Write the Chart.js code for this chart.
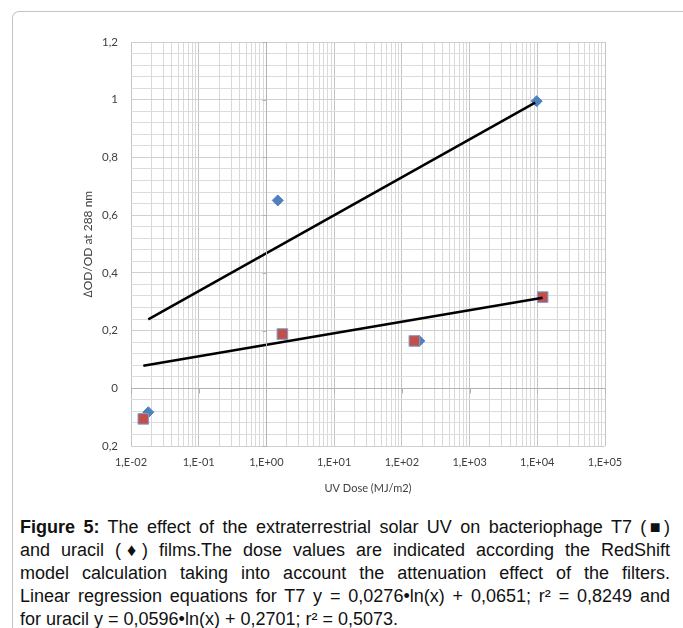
<!DOCTYPE html>
<html>
<head>
<meta charset="utf-8">
<script src="https://cdn.jsdelivr.net/npm/chart.js@4"></script>
<style>
  html, body { margin: 0; padding: 0; background: #fff; }
  body { width: 683px; height: 628px; position: relative; overflow: hidden; }
  #frame { position: absolute; left: 12px; top: 11px; width: 760px; height: 700px;
           border-left: 1px solid #c4c4c4; border-top: 1px solid #c4c4c4; border-top-left-radius: 7px; }
  #wrap { position: absolute; left: 0; top: 0; width: 683px; height: 500px; }
  #caption { position: absolute; left: 20px; top: 516px; width: 650px;
             font-family: "Liberation Sans", Arial, sans-serif; font-size: 18px; line-height: 23px; color: #111; }
  #caption div.j { text-align: justify; text-align-last: justify; white-space: nowrap; }
  #caption div { white-space: nowrap; }
</style>
</head>
<body>
<div id="frame"></div>
<div id="wrap"><canvas id="c" width="683" height="500"></canvas></div>
<div id="caption">
  <div class="j"><b>Figure 5:</b> The effect of the extraterrestrial solar UV on bacteriophage T7 (&#9632;)</div>
  <div class="j">and uracil (&#9830;) films.The dose values are indicated according the RedShift</div>
  <div class="j">model calculation taking into account the attenuation effect of the filters.</div>
  <div class="j">Linear regression equations for T7 y = 0,0276&bull;ln(x) + 0,0651; r&sup2; = 0,8249 and</div>
  <div>for uracil y = 0,0596&bull;ln(x) + 0,2701; r&sup2; = 0,5073.</div>
</div>
<script>
// ---- data ----
const uracilDose = [0.018, 1.47, 181, 9800];
const uracilOD   = [-0.083, 0.651, 0.164, 0.995];
const t7Dose     = [0.0152, 1.72, 153, 12000];
const t7OD       = [-0.106, 0.188, 0.164, 0.316];
const uracilFitDose = [0.018, 9300];
const uracilFitOD   = [0.239, 0.99];
const t7FitDose     = [0.0152, 12000];
const t7FitOD       = [0.078, 0.314];

const xTickValues = [0.01, 0.1, 1, 10, 100, 1000, 10000, 100000];
const xTickLabels = ['1,E-02','1,E-01','1,E+00','1,E+01','1,E+02','1,E+03','1,E+04','1,E+05'];
const yTickValues = [-0.2, 0, 0.2, 0.4, 0.6, 0.8, 1, 1.2];
const yTickLabels = ['0,2','0','0,2','0,4','0,6','0,8','1','1,2'];

const pts = (xs, ys) => xs.map((x, i) => ({x: x, y: ys[i]}));
const FONT = 'Lato, "Open Sans", sans-serif';

const axisPlugin = {
  id: 'excelAxes',
  afterDatasetsDraw(chart) {
    const {ctx, scales: {x, y}, chartArea: a} = chart;
    ctx.save();
    ctx.strokeStyle = '#b3b3b3';
    ctx.lineWidth = 1;
    const y0 = Math.round(y.getPixelForValue(0)) + 0.5;
    const x1 = Math.round(x.getPixelForValue(1)) + 0.5;
    ctx.beginPath();
    ctx.moveTo(a.left, y0); ctx.lineTo(a.right, y0);
    xTickValues.forEach(v => { const px = Math.round(x.getPixelForValue(v)) + 0.5; ctx.moveTo(px, y0); ctx.lineTo(px, y0 + 5); });
    ctx.moveTo(x1, a.top); ctx.lineTo(x1, a.bottom);
    yTickValues.forEach(v => { const py = Math.round(y.getPixelForValue(v)) + 0.5; ctx.moveTo(x1 - 4, py); ctx.lineTo(x1, py); });
    ctx.stroke();
    ctx.restore();
  }
};

new Chart(document.getElementById('c'), {
  type: 'scatter',
  data: {
    datasets: [
      { label: 'uracil fit', type: 'line', data: pts(uracilFitDose, uracilFitOD), borderColor: '#000', borderWidth: 2.5,
        pointRadius: 0, fill: false, order: 0 },
      { label: 'T7 fit', type: 'line', data: pts(t7FitDose, t7FitOD), borderColor: '#000', borderWidth: 2.5,
        pointRadius: 0, fill: false, order: 0 },
      { label: 'T7', data: pts(t7Dose, t7OD), pointStyle: 'rect', pointRadius: 7.5, pointHoverRadius: 7.5,
        backgroundColor: '#C0504D', borderColor: '#7f9fcc', borderWidth: 1, order: 1 },
      { label: 'uracil', data: pts(uracilDose, uracilOD), pointStyle: 'rectRot', pointRadius: 5.5, pointHoverRadius: 5.5,
        backgroundColor: '#4F81BD', borderColor: '#4F81BD', borderWidth: 1, order: 2 }
    ]
  },
  options: {
    responsive: false,
    animation: false,
    events: [],
    layout: { padding: { left: 0, top: 42, right: 78, bottom: 0 } },
    plugins: { legend: { display: false }, tooltip: { enabled: false } },
    scales: {
      x: {
        type: 'logarithmic', min: 0.01, max: 100000, position: 'bottom',
        afterFit(s) { s.height = 54; },
        afterBuildTicks(s) {
          const t = [];
          for (let e = -2; e < 5; e++) for (let m = 1; m < 10; m++) t.push({value: +(m * Math.pow(10, e)).toPrecision(3)});
          t.push({value: 100000});
          s.ticks = t;
        },
        ticks: {
          autoSkip: false, maxRotation: 0, padding: 10, color: '#404040',
          font: { family: FONT, size: 11 },
          callback(v) { const i = xTickValues.findIndex(tv => Math.abs(tv - v) / tv < 1e-6); return i >= 0 ? xTickLabels[i] : ''; }
        },
        grid: {
          drawTicks: false,
          color(c) { const v = c.tick.value; return xTickValues.some(tv => Math.abs(tv - v) / tv < 1e-6) ? '#c4c4c4' : '#d9d9d9'; },
          lineWidth: 1
        },
        border: { display: false },
        title: { display: true, text: 'UV Dose (MJ/m2)', color: '#404040', font: { family: FONT, size: 11 }, padding: { top: 0, bottom: 5 } }
      },
      y: {
        min: -0.2, max: 1.2,
        afterFit(s) { s.width = 131; },
        afterBuildTicks(s) {
          const t = [];
          for (let i = 0; i <= 35; i++) t.push({value: Math.round((-0.2 + i * 0.04) * 1000) / 1000});
          s.ticks = t;
        },
        ticks: {
          autoSkip: false, padding: 13, color: '#404040',
          font: { family: FONT, size: 11.5 },
          callback(v) { const i = yTickValues.findIndex(tv => Math.abs(tv - v) < 1e-6); return i >= 0 ? yTickLabels[i] : ''; }
        },
        grid: {
          drawTicks: false,
          color(c) { const v = c.tick.value; return yTickValues.some(tv => Math.abs(tv - v) < 1e-6) ? '#cfcfcf' : '#dcdcdc'; },
          lineWidth: 1
        },
        border: { display: false },
        title: { display: true, text: '\u2206OD/OD at 288 nm', color: '#404040', font: { family: FONT, size: 12 }, padding: { top: 81, bottom: 0 } }
      }
    }
  },
  plugins: [axisPlugin]
});
</script>
</body>
</html>
